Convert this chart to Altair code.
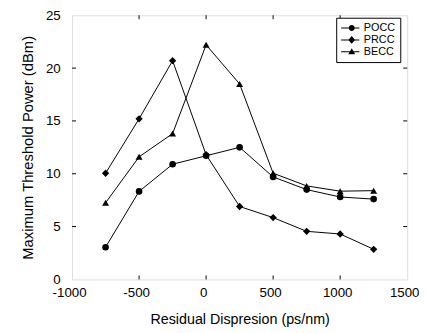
import altair as alt
import pandas as pd

# ---- data ----
x_vals = [-750, -500, -250, 0, 250, 500, 750, 1000, 1250]
pocc = [3.05, 8.33, 10.9, 11.7, 12.5, 9.7, 8.5, 7.8, 7.6]
prcc = [10.05, 15.2, 20.7, 11.8, 6.9, 5.85, 4.55, 4.3, 2.85]
becc = [7.25, 11.6, 13.8, 22.2, 18.5, 10.05, 8.85, 8.35, 8.4]
series = ["POCC", "PRCC", "BECC"]
x_ticks = [-500, 0, 500, 1000]
y_ticks = [5, 10, 15, 20]
x_labels = [-1000, -500, 0, 500, 1000, 1500]
y_labels = [0, 5, 10, 15, 20, 25]

rows = []
for name, vals in zip(series, [pocc, prcc, becc]):
    for xv, yv in zip(x_vals, vals):
        rows.append({"x": xv, "y": yv, "series": name})
df = pd.DataFrame(rows)

W, H = 340, 268
FONT = "Liberation Sans"

xs = alt.Scale(domain=[-1000, 1500], nice=False, zero=False)
ys = alt.Scale(domain=[0, 25], nice=False, zero=False)

xax = alt.Axis(values=x_labels, ticks=False, domain=False, grid=False,
               labelExpr="'' + datum.value", labelOffset=-3,
               labelPadding=6, labelFlush=False, labelOverlap=False,
               labelFontSize=13.5, titleFontSize=14.5, titleFontWeight="normal",
               titlePadding=14, labelFont=FONT, titleFont=FONT,
               labelColor="black", titleColor="black",
               title="Residual Dispresion (ps/nm)")
yax = alt.Axis(values=y_labels, ticks=False, domain=False, grid=False,
               labelExpr="'' + datum.value",
               labelPadding=12, labelFlush=False, labelOverlap=False,
               labelFontSize=13.5, titleFontSize=15, titleFontWeight="normal",
               titlePadding=10.5, labelFont=FONT, titleFont=FONT,
               labelColor="black", titleColor="black",
               title="Maximum Threshold Power (dBm)")

base = alt.Chart(df)

lines = base.mark_line(color="black", strokeWidth=1).encode(
    x=alt.X("x:Q", scale=xs, axis=xax),
    y=alt.Y("y:Q", scale=ys, axis=yax),
    detail="series:N",
)

shape_map = {"POCC": ("circle", 45), "PRCC": ("diamond", 55), "BECC": ("triangle-up", 50)}
pts = []
for name in series:
    shp, sz = shape_map[name]
    pts.append(
        base.transform_filter(alt.datum.series == name)
        .mark_point(shape=shp, size=sz, filled=True, color="black", opacity=1)
        .encode(x=alt.X("x:Q", scale=xs), y=alt.Y("y:Q", scale=ys))
    )

# legend glyphs: a short line with the marker on it (unit = 5 px)
LINE = "M-1.1,-0.1H2.6V0.1H-1.1Z"
legend_paths = [
    LINE + "M0.45,0A0.6,0.6,0,1,1,1.65,0A0.6,0.6,0,1,1,0.45,0Z",
    LINE + "M1.05,-0.8L1.75,0L1.05,0.8L0.35,0Z",
    LINE + "M1.05,-0.7L1.75,0.5L0.35,0.5Z",
]
leg = base.mark_point(filled=True, color="black", opacity=0).encode(
    x=alt.X("x:Q", scale=xs),
    y=alt.Y("y:Q", scale=ys),
    shape=alt.Shape("series:N", scale=alt.Scale(domain=series, range=legend_paths),
                    legend=alt.Legend(title=None, orient="none", legendX=268, legendY=2.5,
                                      symbolSize=100, symbolOpacity=1,
                                      symbolFillColor="black", symbolStrokeWidth=0,
                                      labelFontSize=11, labelFont=FONT,
                                      labelColor="black", labelOffset=12, rowPadding=0,
                                      padding=5, fillColor="white", strokeColor="black")),
)

xt = pd.DataFrame({"t": x_ticks})
yt = pd.DataFrame({"t": y_ticks})
tick_b = alt.Chart(xt).mark_rule(color="black", strokeWidth=1).encode(
    x=alt.X("t:Q", scale=xs), y=alt.value(H), y2=alt.value(H - 4))
tick_t = alt.Chart(xt).mark_rule(color="black", strokeWidth=1).encode(
    x=alt.X("t:Q", scale=xs), y=alt.value(0), y2=alt.value(4))
tick_l = alt.Chart(yt).mark_rule(color="black", strokeWidth=1).encode(
    y=alt.Y("t:Q", scale=ys), x=alt.value(0), x2=alt.value(4))
tick_r = alt.Chart(yt).mark_rule(color="black", strokeWidth=1).encode(
    y=alt.Y("t:Q", scale=ys), x=alt.value(W), x2=alt.value(W - 4))

chart = alt.layer(lines, *pts, leg, tick_b, tick_t, tick_l, tick_r).properties(
    width=W, height=H,
    autosize=alt.AutoSizeParams(type="none"),
    padding={"left": 65, "top": 5, "right": 12, "bottom": 52},
).configure_view(stroke="black", strokeWidth=1.4).configure(background="white")

chart.save("out.html", embed_options={"renderer": "svg", "actions": False})
